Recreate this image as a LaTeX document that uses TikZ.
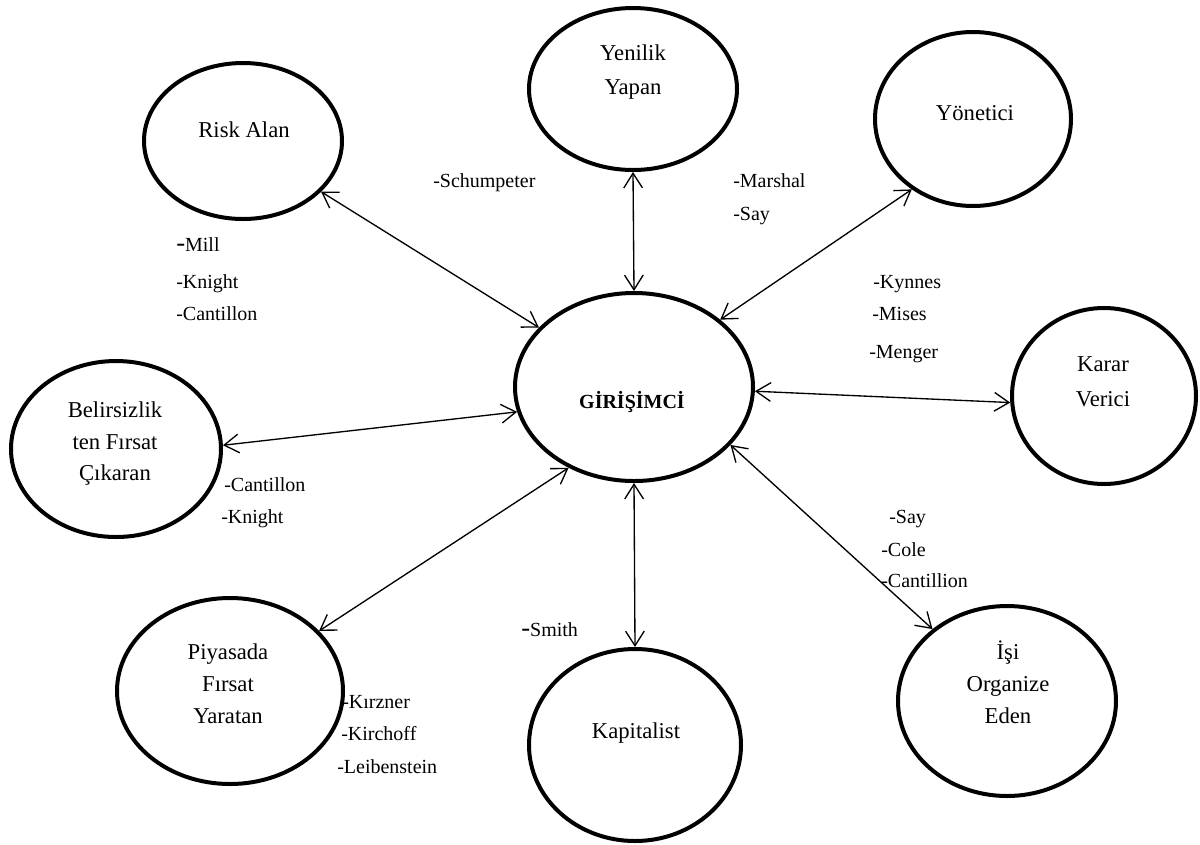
\documentclass[tikz,border=0pt]{standalone}
\usepackage{fontspec}
\setmainfont{Liberation Serif}
\usetikzlibrary{arrows.meta,shapes.geometric}
\begin{document}
\begin{tikzpicture}[x=0.75pt,y=-0.75pt,
  ell/.style={draw, ellipse, line width=3pt, inner sep=0pt},
  sz/.style 2 args={minimum width={(#1-2)*1.5pt},minimum height={(#2-2)*1.5pt}},
  ttl/.style={align=center, font=\fontsize{17}{24}\selectfont, inner sep=0pt},
  lbl/.style={anchor=mid west, font=\fontsize{15}{18}\selectfont, inner sep=0pt},
  link/.style={line width=1pt, {Straight Barb[length=11pt,width=14pt]}-{Straight Barb[length=11pt,width=14pt]}},
]
\useasboundingbox (0,0) rectangle (1200,844);

% ellipses
\node[ell, sz={101}{80}] (ra) at (243,141) {};
\node[ell, sz={106}{83}] (yp) at (633,89) {};
\node[ell, sz={100}{89}] (yn) at (973,119) {};
\node[ell, sz={121}{96}] (g) at (634,387) {};
\node[ell, sz={94}{90}] (kv) at (1104,396) {};
\node[ell, sz={107}{90}] (bf) at (116,449) {};
\node[ell, sz={115}{95}] (pf) at (230,691) {};
\node[ell, sz={108}{98}] (kp) at (635,745) {};
\node[ell, sz={111}{97}] (io) at (1007,701) {};

% texts in ellipses
\node[ttl] (tra) at (244,130) {Risk Alan};
\node[ttl, font=\fontsize{17}{26}\selectfont] (typ) at (633,72) {Yenilik\\Yapan};
\node[ttl] (tyn) at (975,113) {Yönetici};
\node[ttl, font=\fontsize{15}{18}\selectfont\bfseries] (tg) at (632,402) {GİRİŞİMCİ};
\node[ttl, font=\fontsize{17}{26}\selectfont] (tkv) at (1103,382) {Karar\\Verici};
\node[ttl, font=\fontsize{17}{23.6}\selectfont] (tbf) at (115,444) {Belirsizlik\\ten Fırsat\\Çıkaran};
\node[ttl] (tpf) at (228,684) {Piyasada\\Fırsat\\Yaratan};
\node[ttl] (tkp) at (636,733) {Kapitalist};
\node[ttl] (tio) at (1008,682) {İşi\\Organize\\Eden};

% connectors
\draw[link] (ra.-33.7) -- (g.148.6);
\draw[link] (yp.south) -- (g.north);
\draw[link] (yn.229.3) -- (g.38.7);
\draw[link] (kv.184.9) -- (g.-2.4);
\draw[link] (bf.2.1) -- (g.192.6);
\draw[link] (pf.34.1) -- (g.231.1);
\draw[link] (g.south) -- (kp.north);
\draw[link] (io.136.4) -- (g.-31.3);

% labels
\node[lbl] (l1) at (433,184) {-Schumpeter};
\node[lbl] (l2) at (733,184) {-Marshal};
\node[lbl] (l3) at (733,217) {-Say};
\node[lbl] (l4) at (176,248) {{\fontsize{20}{20}\selectfont -}Mill};
\node[lbl] (l5) at (176,285) {-Knight};
\node[lbl] (l6) at (176,317) {-Cantillon};
\node[lbl] (l7) at (873,285) {-Kynnes};
\node[lbl] (l8) at (872,317) {-Mises};
\node[lbl] (l9) at (869,355) {-Menger};
\node[lbl] (l10) at (224,488) {-Cantillon};
\node[lbl] (l11) at (221,520) {-Knight};
\node[lbl] (l12) at (889,520) {-Say};
\node[lbl] (l13) at (881,553) {-Cole};
\node[lbl] (l14) at (881,584) {-Cantillion};
\node[lbl] (l15) at (521,633) {{\fontsize{20}{20}\selectfont -}Smith};
\node[lbl] (l16) at (342,705) {-Kırzner};
\node[lbl] (l17) at (341,737) {-Kirchoff};
\node[lbl] (l18) at (337,770) {-Leibenstein};
\end{tikzpicture}
\end{document}
